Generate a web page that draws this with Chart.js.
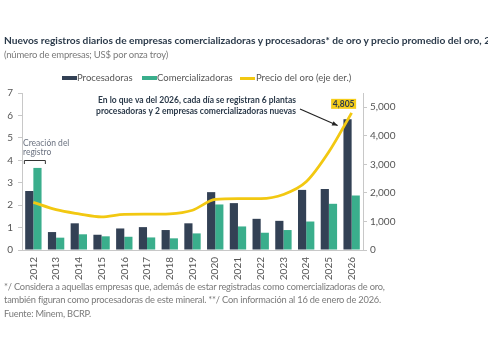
<!DOCTYPE html>
<html lang="es">
<head>
<meta charset="UTF-8">
<title>Empresas comercializadoras y procesadoras de oro</title>
<script src="https://cdn.jsdelivr.net/npm/chart.js"></script>
<style>
  body { margin: 0; background: #fff; font-family: Lato, sans-serif; }
  #wrap { position: relative; width: 488px; height: 352px; overflow: hidden; }
  #wrap canvas { position: absolute; left: 0; top: 0; }
  .txt { position: absolute; white-space: nowrap; }
  #title { left: 4px; top: 34px; font-size: 10.2px; font-weight: bold; color: #2b3a4a; }
  #sub { left: 4px; top: 48.5px; font-size: 9.5px; color: #7a7a7a; letter-spacing: -0.2px; }
  .leg { top: 72px; font-size: 9.5px; color: #555; }
  .key { position: absolute; width: 15px; }
  #notes { left: 4px; top: 281px; font-size: 9.3px; color: #7a7a7a; line-height: 12.5px; white-space: normal; width: 480px; letter-spacing: -0.2px; }
</style>
</head>
<body>
<div id="wrap">
  <canvas id="myChart" width="488" height="352"></canvas>
  <div class="txt" id="title">Nuevos registros diarios de empresas comercializadoras y procesadoras* de oro y precio promedio del oro, 2012-2026**</div>
  <div class="txt" id="sub">(número de empresas; US$ por onza troy)</div>
  <div class="key" style="left:62px;top:76px;height:4px;background:#334155"></div>
  <div class="txt leg" style="left:77px">Procesadoras</div>
  <div class="key" style="left:142px;top:76px;height:4px;background:#3aae8c"></div>
  <div class="txt leg" style="left:157px">Comercializadoras</div>
  <div class="key" style="left:240px;top:77px;height:2.5px;background:#f2c811"></div>
  <div class="txt leg" style="left:256px">Precio del oro (eje der.)</div>
  <div class="txt" id="notes">*/ Considera a aquellas empresas que, además de estar registradas como comercializadoras de oro,<br>también figuran como procesadoras de este mineral. **/ Con información al 16 de enero de 2026.<br><span style="line-height:15px">Fuente: Minem, BCRP.</span></div>
</div>
<script>
const years = ['2012','2013','2014','2015','2016','2017','2018','2019','2020','2021','2022','2023','2024','2025','2026'];
const procesadoras = [2.63, 0.80, 1.19, 0.68, 0.96, 1.02, 0.89, 1.19, 2.58, 2.09, 1.39, 1.30, 2.68, 2.72, 5.83];
const comercializadoras = [3.66, 0.55, 0.70, 0.61, 0.59, 0.56, 0.52, 0.74, 2.03, 1.05, 0.77, 0.89, 1.27, 2.06, 2.43];
const precioOro = [1669, 1411, 1266, 1160, 1251, 1257, 1269, 1393, 1770, 1799, 1800, 1943, 2388, 3440, 4805];
const leftTicks = [0, 1, 2, 3, 4, 5, 6, 7];
const rightTicks = [0, 1000, 2000, 3000, 4000, 5000];

const axisGray = '#c8c8c8';
const tickFont = { family: 'Lato', size: 10 };
const boldSmall = 'bold 8.5px Lato';

// anotaciones dibujadas sobre el grafico
const notes = {
  id: 'notes',
  afterDatasetsDraw(chart) {
    const c = chart.ctx;
    const x = chart.scales.x, yl = chart.scales.y, yr = chart.scales.y1;
    c.save();
    // texto principal
    c.fillStyle = '#2b3a4a';
    c.font = boldSmall;
    c.textAlign = 'center';
    c.textBaseline = 'middle';
    c.fillText('En lo que va del 2026, cada día se registran 6 plantas', 197, 100);
    c.fillText('procesadoras y 2 empresas comercializadoras nuevas', 196, 111.5);
    // flecha hacia la barra 2026
    const bx = x.getPixelForValue(14) - 14, by = yl.getPixelForValue(5.55);
    c.strokeStyle = '#222'; c.lineWidth = 1.2;
    c.beginPath(); c.moveTo(300, 109); c.lineTo(bx, by); c.stroke();
    const a = Math.atan2(by - 109, bx - 300);
    c.beginPath();
    c.moveTo(bx, by);
    c.lineTo(bx - 6 * Math.cos(a - 0.4), by - 6 * Math.sin(a - 0.4));
    c.lineTo(bx - 6 * Math.cos(a + 0.4), by - 6 * Math.sin(a + 0.4));
    c.closePath(); c.fillStyle = '#222'; c.fill();
    // etiqueta 4,805
    const lx = x.getPixelForValue(14) - 8, ly = yr.getPixelForValue(precioOro[14]) - 9;
    c.fillStyle = '#f5cd1a';
    c.fillRect(lx - 12.5, ly - 5, 25, 10);
    c.fillStyle = '#2b3a4a';
    c.font = boldSmall;
    c.fillText('4,805', lx, ly);
    // creacion del registro
    c.fillStyle = '#6b7280';
    c.font = '8.5px Lato';
    c.textAlign = 'left';
    c.fillText('Creación del', 23, 143);
    c.fillText('registro', 23, 152.5);
    const x0 = x.getPixelForValue(0) - 9, x1 = x.getPixelForValue(0) + 12;
    c.strokeStyle = '#333'; c.lineWidth = 1;
    c.beginPath();
    c.moveTo(x0, 164); c.lineTo(x0, 160.5); c.lineTo(x1, 160.5); c.lineTo(x1, 164);
    c.stroke();
    c.restore();
  }
};

new Chart(document.getElementById('myChart'), {
  data: {
    labels: years,
    datasets: [
      { type: 'line', label: 'Precio del oro (eje der.)', data: precioOro, yAxisID: 'y1',
        borderColor: '#f2c811', borderWidth: 2.8, pointRadius: 0, tension: 0.4,
        cubicInterpolationMode: 'monotone', order: 0 },
      { type: 'bar', label: 'Procesadoras', data: procesadoras, yAxisID: 'y',
        backgroundColor: '#334155', categoryPercentage: 0.72, barPercentage: 1, order: 1 },
      { type: 'bar', label: 'Comercializadoras', data: comercializadoras, yAxisID: 'y',
        backgroundColor: '#3aae8c', categoryPercentage: 0.72, barPercentage: 1, order: 1 }
    ]
  },
  options: {
    responsive: false,
    animation: false,
    layout: { padding: { top: 93, left: 0, right: 0, bottom: 0 } },
    plugins: { legend: { display: false }, tooltip: { enabled: false } },
    scales: {
      x: {
        grid: { display: false, drawTicks: true, tickLength: 4, color: axisGray },
        border: { color: axisGray },
        ticks: { color: '#555', font: tickFont, minRotation: 90, maxRotation: 90, padding: 3 },
        afterFit(s) { s.height = 102; }
      },
      y: {
        position: 'left', min: 0, max: 7,
        afterBuildTicks(s) { s.ticks = leftTicks.map(v => ({ value: v })); },
        grid: { drawOnChartArea: false, tickLength: 4, color: axisGray },
        border: { color: axisGray },
        ticks: { color: '#555', font: tickFont, padding: 5 },
        afterFit(s) { s.width = 22; }
      },
      y1: {
        position: 'right', min: 0, max: 5500,
        afterBuildTicks(s) { s.ticks = rightTicks.map(v => ({ value: v })); },
        grid: { drawOnChartArea: false, tickLength: 4, color: axisGray },
        border: { color: axisGray },
        ticks: { color: '#555', font: tickFont, padding: 3,
          callback: v => v.toLocaleString('en-US') },
        afterFit(s) { s.width = 125; }
      }
    }
  },
  plugins: [notes]
});
</script>
</body>
</html>
